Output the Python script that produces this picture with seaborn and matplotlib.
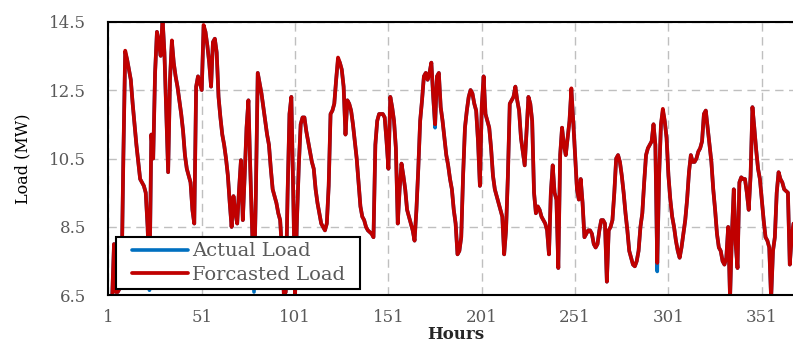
import matplotlib
matplotlib.use("Agg")
import matplotlib.pyplot as plt
import pandas as pd
import seaborn as sns

# hourly load (MW)
hours = list(range(1, 369))

actual_load = [
    6.2, 6.3, 6.4, 8.0, 6.6, 6.6, 6.7, 6.8, 10.5, 13.6,
    13.4, 13.1, 12.8, 12.1, 11.5, 10.9, 10.4, 9.9, 9.8, 9.7,
    9.5, 8.5, 6.65, 11.2, 10.5, 13.0, 14.2, 13.9, 13.5, 14.6,
    13.6, 11.8, 10.1, 12.8, 13.9, 13.3, 12.9, 12.6, 12.2, 11.8,
    11.3, 10.6, 10.2, 10.0, 9.8, 9.0, 8.6, 12.6, 12.9, 12.7,
    12.5, 14.35, 14.2, 13.8, 13.3, 12.6, 13.9, 14.0, 13.6, 12.3,
    11.7, 11.2, 10.9, 10.5, 10.0, 9.2, 8.5, 9.4, 8.9, 8.6,
    9.6, 10.45, 8.7, 10.0, 11.4, 12.2, 10.2, 8.4, 6.6, 9.5,
    13.0, 12.7, 12.4, 12.0, 11.6, 11.2, 10.9, 10.2, 9.6, 9.4,
    9.2, 8.9, 8.7, 7.8, 6.5, 6.6, 9.5, 11.8, 12.3, 9.5,
    6.5, 8.7, 10.3, 11.5, 11.7, 11.7, 11.3, 11.0, 10.7, 10.4,
    10.2, 9.6, 9.2, 8.9, 8.6, 8.5, 8.4, 8.6, 9.7, 11.8,
    11.9, 12.1, 12.8, 13.4, 13.3, 13.1, 12.6, 11.2, 12.2, 12.1,
    11.9, 11.5, 11.0, 10.5, 9.8, 9.1, 8.8, 8.7, 8.5, 8.4,
    8.35, 8.3, 8.2, 10.9, 11.6, 11.8, 11.8, 11.8, 11.7, 11.0,
    10.2, 12.3, 12.0, 11.6, 10.8, 8.6, 9.6, 10.35, 10.0, 9.6,
    9.0, 8.8, 8.6, 8.4, 8.1, 9.0, 10.2, 11.6, 12.2, 12.9,
    13.0, 12.8, 13.0, 13.3, 12.3, 11.4, 12.9, 13.0, 12.0, 11.6,
    11.1, 10.6, 10.3, 9.9, 9.6, 9.0, 8.6, 7.7, 7.8, 8.2,
    10.0, 11.4, 11.9, 12.3, 12.5, 12.4, 12.1, 11.9, 11.0, 9.7,
    12.0, 12.9, 11.8, 11.6, 11.4, 10.8, 10.0, 9.6, 9.4, 9.2,
    9.0, 8.8, 7.7, 8.4, 10.0, 12.1, 12.2, 12.3, 12.6, 12.2,
    11.9, 11.1, 10.7, 10.3, 11.3, 12.3, 12.1, 11.6, 9.5, 8.9,
    9.1, 9.0, 8.8, 8.7, 8.6, 8.4, 7.7, 9.5, 10.3, 9.5,
    9.3, 7.3, 10.6, 11.4, 10.9, 10.6, 11.1, 11.6, 12.5, 11.6,
    10.6, 9.6, 9.3, 9.9, 9.2, 8.2, 8.3, 8.4, 8.4, 8.3,
    8.0, 7.9, 8.0, 8.4, 8.7, 8.7, 8.6, 6.9, 8.4, 8.5,
    8.7, 9.5, 10.5, 10.6, 10.4, 10.0, 9.5, 8.9, 8.4, 7.8,
    7.6, 7.4, 7.35, 7.5, 7.8, 8.5, 8.9, 9.8, 10.6, 10.8,
    10.9, 11.0, 11.5, 10.9, 7.2, 10.0, 11.5, 11.9, 11.6, 11.1,
    10.0, 9.3, 8.8, 8.5, 8.1, 7.8, 7.6, 7.9, 8.3, 8.7,
    9.3, 10.1, 10.6, 10.4, 10.4, 10.5, 10.7, 10.8, 11.0, 11.8,
    11.9, 11.4, 10.9, 10.4, 9.6, 9.0, 8.3, 7.9, 7.8, 7.5,
    7.4, 7.6, 8.5, 6.4, 8.3, 9.6, 8.0, 7.3, 9.8, 9.95,
    9.9, 9.9, 9.5, 9.0, 10.0, 12.0, 11.4, 10.75, 10.2, 9.9,
    9.3, 8.7, 8.2, 8.1, 7.9, 6.4, 7.8, 8.2, 9.5, 10.1,
    9.9, 9.8, 9.6, 9.55, 9.5, 7.4, 8.2, 8.6,
]

forecast_load = [
    6.2, 6.3, 6.4, 8.0, 6.6, 6.6, 6.7, 6.8, 10.5, 13.65,
    13.4, 13.1, 12.8, 12.1, 11.5, 10.9, 10.4, 9.9, 9.8, 9.7,
    9.5, 8.5, 6.9, 11.2, 10.5, 13.0, 14.2, 13.9, 13.5, 14.6,
    13.6, 11.8, 10.1, 12.8, 13.95, 13.3, 12.9, 12.6, 12.2, 11.8,
    11.3, 10.6, 10.2, 10.0, 9.8, 9.0, 8.6, 12.6, 12.9, 12.7,
    12.5, 14.4, 14.2, 13.8, 13.3, 12.6, 13.9, 14.0, 13.6, 12.3,
    11.7, 11.2, 10.9, 10.5, 10.0, 9.2, 8.5, 9.4, 8.9, 8.6,
    9.6, 10.45, 8.7, 10.0, 11.4, 12.2, 10.2, 8.4, 6.9, 9.5,
    13.0, 12.7, 12.4, 12.0, 11.6, 11.2, 10.9, 10.2, 9.6, 9.4,
    9.2, 8.9, 8.7, 7.8, 6.5, 6.6, 9.5, 11.8, 12.3, 9.5,
    6.5, 8.7, 10.3, 11.5, 11.7, 11.7, 11.3, 11.0, 10.7, 10.4,
    10.2, 9.6, 9.2, 8.9, 8.6, 8.5, 8.4, 8.6, 9.7, 11.8,
    11.9, 12.1, 12.8, 13.45, 13.3, 13.1, 12.6, 11.2, 12.2, 12.1,
    11.9, 11.5, 11.0, 10.5, 9.8, 9.1, 8.8, 8.7, 8.5, 8.4,
    8.35, 8.3, 8.2, 10.9, 11.6, 11.8, 11.8, 11.8, 11.7, 11.0,
    10.2, 12.3, 12.0, 11.6, 10.8, 8.6, 9.6, 10.35, 10.0, 9.6,
    9.0, 8.8, 8.6, 8.4, 8.1, 9.0, 10.2, 11.6, 12.2, 12.9,
    13.0, 12.8, 13.0, 13.3, 12.3, 11.5, 12.9, 13.0, 12.0, 11.6,
    11.1, 10.6, 10.3, 9.9, 9.6, 9.0, 8.6, 7.7, 7.8, 8.2,
    10.0, 11.4, 11.9, 12.3, 12.5, 12.4, 12.1, 11.9, 11.0, 9.7,
    12.05, 12.9, 11.8, 11.6, 11.4, 10.8, 10.0, 9.6, 9.4, 9.2,
    9.0, 8.8, 7.7, 8.4, 10.0, 12.1, 12.2, 12.3, 12.6, 12.2,
    11.9, 11.1, 10.7, 10.3, 11.3, 12.3, 12.1, 11.6, 9.5, 8.9,
    9.1, 9.0, 8.8, 8.7, 8.6, 8.4, 7.7, 9.5, 10.3, 9.5,
    9.3, 7.3, 10.6, 11.4, 10.9, 10.6, 11.1, 11.6, 12.55, 11.6,
    10.6, 9.6, 9.3, 9.9, 9.2, 8.2, 8.3, 8.4, 8.4, 8.3,
    8.0, 7.9, 8.0, 8.4, 8.7, 8.7, 8.6, 6.9, 8.4, 8.5,
    8.7, 9.5, 10.5, 10.6, 10.4, 10.0, 9.5, 8.9, 8.4, 7.8,
    7.6, 7.4, 7.35, 7.5, 7.8, 8.5, 8.9, 9.8, 10.6, 10.8,
    10.9, 11.0, 11.5, 10.9, 7.45, 10.0, 11.5, 11.95, 11.6, 11.1,
    10.0, 9.3, 8.8, 8.5, 8.1, 7.8, 7.6, 7.9, 8.3, 8.7,
    9.3, 10.1, 10.6, 10.4, 10.4, 10.5, 10.7, 10.8, 11.0, 11.8,
    11.9, 11.4, 10.9, 10.4, 9.6, 9.0, 8.3, 7.9, 7.8, 7.5,
    7.4, 7.6, 8.5, 6.4, 8.3, 9.6, 8.0, 7.3, 9.8, 9.95,
    9.9, 9.9, 9.5, 9.0, 10.0, 12.0, 11.4, 10.75, 10.2, 9.9,
    9.3, 8.7, 8.2, 8.1, 7.9, 6.4, 7.8, 8.2, 9.5, 10.1,
    9.9, 9.8, 9.6, 9.55, 9.5, 7.4, 8.2, 8.6,
]

x_ticks = [1, 51, 101, 151, 201, 251, 301, 351]
y_ticks = [6.5, 8.5, 10.5, 12.5, 14.5]

df = pd.DataFrame({"Hours": hours,
                   "Actual Load": actual_load,
                   "Forcasted Load": forecast_load})

sns.set_style("white")
plt.rcParams["font.family"] = ["DejaVu Serif"]

W, H = 793, 343
fig = plt.figure(figsize=(W / 100, H / 100), dpi=100)
# axes runs a little past the right edge of the image, like the original
ax = fig.add_axes([108.4 / W, 1 - 295.4 / H, (803.6 - 108.4) / W, (295.4 - 21.6) / H])

sns.lineplot(data=df, x="Hours", y="Actual Load", color="#0070C0", lw=2.6,
             label="Actual Load", estimator=None, sort=False, ax=ax)
sns.lineplot(data=df, x="Hours", y="Forcasted Load", color="#C00000", lw=2.7,
             label="Forcasted Load", estimator=None, sort=False, ax=ax)

ax.set_xlim(1, 373.4)
ax.set_ylim(6.5, 14.5)
ax.set_xticks(x_ticks)
ax.set_yticks(y_ticks)
ax.set_yticklabels([f"{v:.1f}" for v in y_ticks])
ax.tick_params(length=0, labelsize=12, labelcolor="#595959")
ax.tick_params(axis="y", pad=16)
ax.tick_params(axis="x", pad=10)

ax.grid(True, color="#BFBFBF", linestyle=(0, (6, 4)), linewidth=1)
ax.set_axisbelow(True)
for side in ["top", "left", "bottom"]:
    ax.spines[side].set_color("black")
    ax.spines[side].set_linewidth(1.5)
ax.spines["right"].set_visible(False)

ax.set_xlabel("Hours", fontsize=12, fontweight="bold", color="#262626")
ax.set_ylabel("Load (MW)", fontsize=11.5, color="black")
ax.xaxis.set_label_coords(0.5, -(326.2 - 295.4) / 273.8)
ax.yaxis.set_label_coords((31 - 108.4) / 695.2, 0.5)

leg = ax.legend(loc="lower left", bbox_to_anchor=((126.7 - 108.4) / 695.2, (295.4 - 289) / 273.8),
                borderaxespad=0, fontsize=14, frameon=True, fancybox=False,
                edgecolor="black", framealpha=1, borderpad=0.25, handlelength=2.9,
                handletextpad=0.2, labelspacing=0.3)
for t in leg.get_texts():
    t.set_color("#595959")
frame = leg.get_frame()
frame.set_linewidth(1.5)
frame.set_boxstyle("square", pad=0.55)
frame.set_mutation_aspect(0.001)

fig.savefig("out.png", dpi=100)
